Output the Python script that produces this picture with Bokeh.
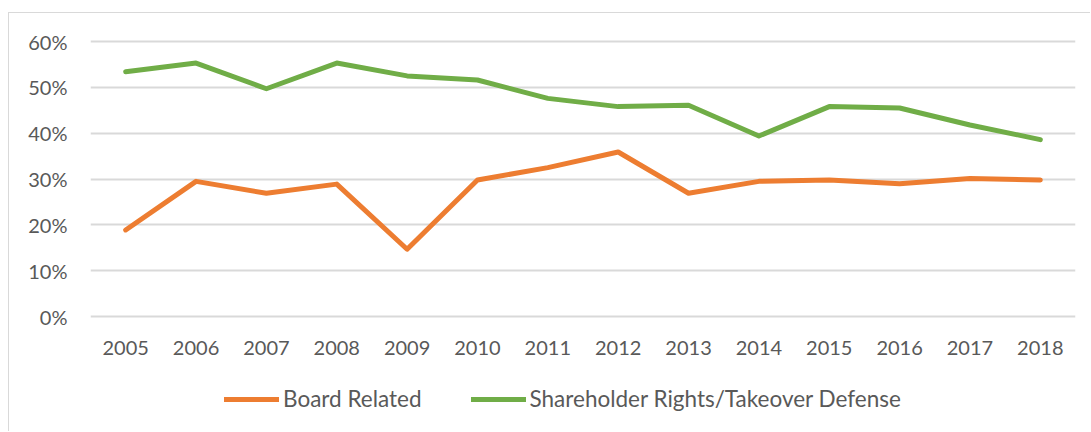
from bokeh.plotting import figure
from bokeh.models import Legend, LegendItem, NumeralTickFormatter, FixedTicker, Range1d
from bokeh.embed import file_html
from bokeh.resources import INLINE

years = ["2005", "2006", "2007", "2008", "2009", "2010", "2011", "2012", "2013", "2014", "2015", "2016", "2017", "2018"]
board_related = [0.189, 0.295, 0.269, 0.289, 0.147, 0.298, 0.325, 0.359, 0.269, 0.295, 0.298, 0.290, 0.301, 0.298]
shareholder_rights = [0.534, 0.553, 0.497, 0.553, 0.525, 0.516, 0.476, 0.458, 0.461, 0.394, 0.458, 0.455, 0.418, 0.386]
y_ticks = [0, 0.1, 0.2, 0.3, 0.4, 0.5, 0.6]
series_names = ["Board Related", "Shareholder Rights/Takeover Defense"]

FONT = "Lato"
TXT = "#595959"
GRID = "#d9d9d9"

p = figure(width=1082, height=419, x_range=years, y_range=Range1d(-0.2375, 0.6044),
           output_backend="svg", toolbar_location=None,
           min_border_left=81, min_border_right=16, min_border_top=26, min_border_bottom=7)
p.styles = {"margin-left": "8px", "margin-top": "12px",
            "border-left": "1px solid #d9d9d9", "border-top": "1px solid #d9d9d9"}
p.outline_line_color = None
p.background_fill_color = "white"
p.border_fill_color = "white"

r1 = p.line(years, board_related, line_color="#ED7D31", line_width=5, line_cap="round", line_join="round")
r2 = p.line(years, shareholder_rights, line_color="#70AD47", line_width=5, line_cap="round", line_join="round")

p.yaxis.ticker = FixedTicker(ticks=y_ticks)
p.yaxis.formatter = NumeralTickFormatter(format="0%")
for ax in (p.xaxis[0], p.yaxis[0]):
    ax.axis_line_color = None
    ax.major_tick_line_color = None
    ax.minor_tick_line_color = None
    ax.major_label_text_font = FONT
    ax.major_label_text_font_size = "20px"
    ax.major_label_text_color = TXT
p.xaxis.fixed_location = 0
p.xaxis.major_label_standoff = 18
p.yaxis.major_label_standoff = 17

p.xgrid.grid_line_color = None
p.ygrid.grid_line_color = GRID
p.ygrid.grid_line_width = 2

legend = Legend(items=[LegendItem(label=series_names[0], renderers=[r1]),
                       LegendItem(label=series_names[1], renderers=[r2])],
                orientation="horizontal", location=(134, 13))
legend.border_line_color = None
legend.background_fill_alpha = 0
legend.padding = 0
legend.margin = 0
legend.spacing = 49
legend.glyph_width = 55
legend.glyph_height = 22
legend.label_standoff = 4
legend.label_text_font = FONT
legend.label_text_font_size = "22.5px"
legend.label_text_color = TXT
legend.label_height = 22
p.add_layout(legend, "center")

open("out.html", "w").write(file_html(p, INLINE))
